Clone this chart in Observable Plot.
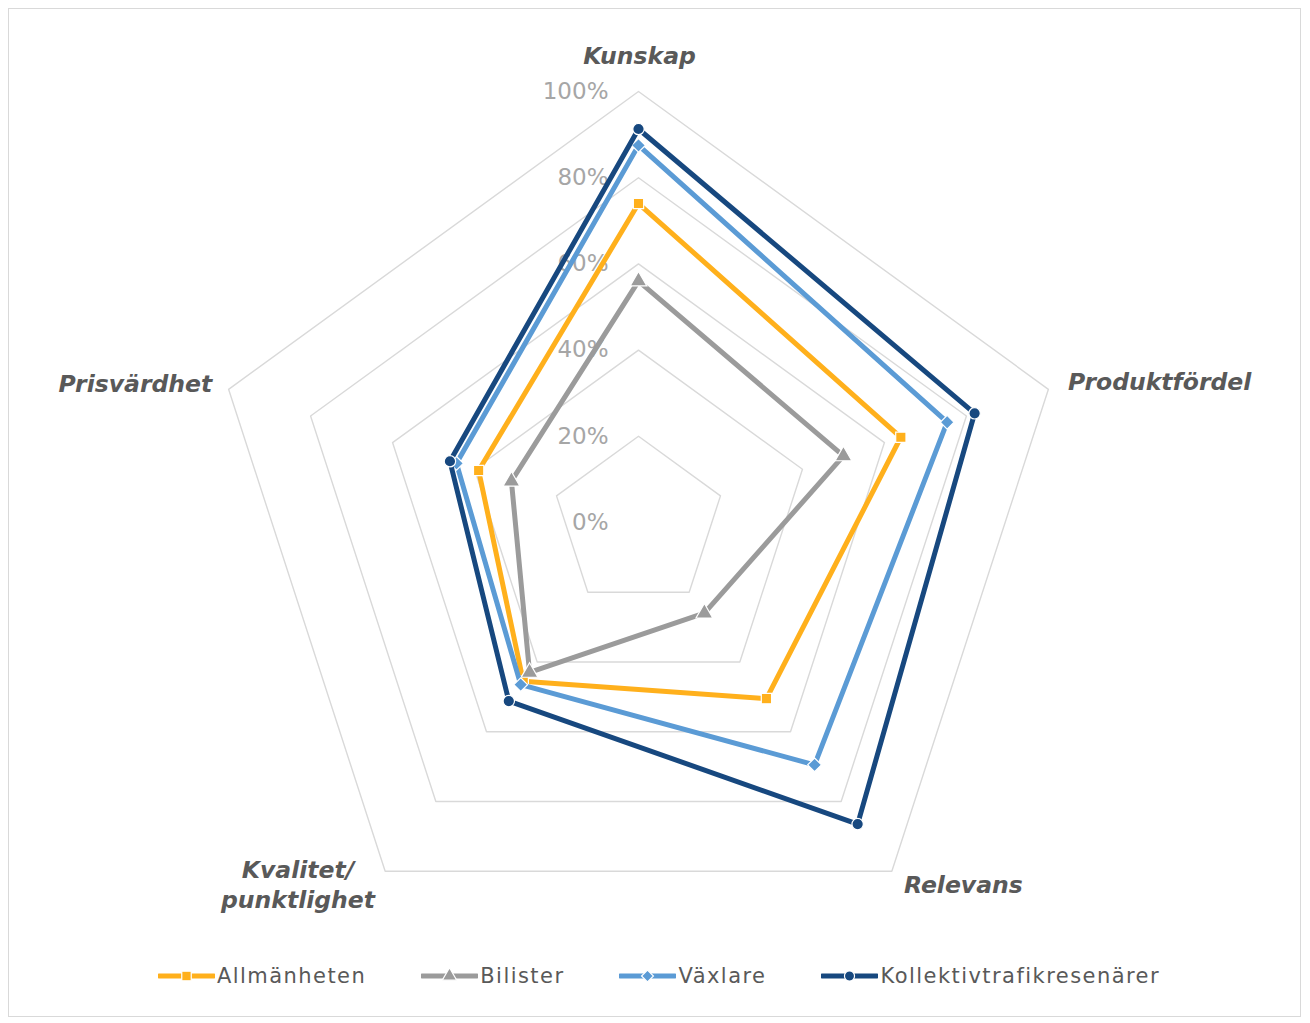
<!DOCTYPE html>
<html>
<head>
<meta charset="utf-8">
<script src="https://cdn.jsdelivr.net/npm/d3@7"></script>
<script src="https://cdn.jsdelivr.net/npm/@observablehq/plot@0.6"></script>
<style>
  html, body { margin: 0; padding: 0; background: #fff; }
  #wrap { position: relative; width: 1310px; height: 1023px; overflow: hidden; font-family: "DejaVu Sans", Verdana, sans-serif; }
  #frame { position: absolute; left: 8px; top: 8px; width: 1293px; height: 1009px; border: 1px solid #d9d9d9; box-sizing: border-box; }
  #chart { position: absolute; left: 0; top: 0; }
  #legend { position: absolute; left: 4px; width: 1310px; top: 964px; display: flex; justify-content: center; gap: 55px; align-items: center; }
  .item { display: flex; align-items: center; gap: 2px; }
  .item span { font-size: 21px; letter-spacing: 1.45px; color: #595959; }
</style>
</head>
<body>
<div id="wrap">
  <div id="frame"></div>
  <div id="chart"></div>
  <div id="legend"></div>
</div>
<script>
// ---- data ----
const axes = ["Kunskap", "Produktfördel", "Relevans", "Kvalitet/\npunktlighet", "Prisvärdhet"];
const seriesNames = ["Allmänheten", "Bilister", "Växlare", "Kollektivtrafikresenärer"];
const allmanheten = [0.74, 0.64, 0.505, 0.455, 0.39];
const bilister    = [0.56, 0.50, 0.26, 0.43, 0.31];
const vaxlare     = [0.875, 0.753, 0.695, 0.465, 0.444];
const kollektiv   = [0.913, 0.82, 0.865, 0.512, 0.46];
const tickValues  = [0, 0.2, 0.4, 0.6, 0.8, 1.0];
const tickLabels  = ["0%", "20%", "40%", "60%", "80%", "100%"];

const colors  = ["#FFB01C", "#9B9B9B", "#5B9BD5", "#17487F"];
const symbols = ["square", "triangle", "diamond2", "circle"];
const seriesValues = [allmanheten, bilister, vaxlare, kollektiv];

// ---- geometry helpers ----
const n = axes.length;
const ang = i => i * 2 * Math.PI / n;
const px = (r, i) => r * Math.sin(ang(i));
const py = (r, i) => r * Math.cos(ang(i));

const W = 1310, H = 940, cx = 638, cy = 522, R = 431;

// rings
const rings = [];
tickValues.filter(t => t > 0).forEach(t => {
  for (let i = 0; i < n; i++) rings.push({ring: t, x: px(t, i), y: py(t, i)});
});

// series points
const seriesData = seriesNames.map((s, k) =>
  seriesValues[k].map((v, i) => ({series: s, axis: axes[i], x: px(v, i), y: py(v, i)}))
);

// axis label placement (code-side layout)
const labelLayout = [
  {r: 1.081, anchor: "middle", dx: 1},
  {r: 1.05, anchor: "start", dx: -1},
  {r: 1.04, anchor: "start", dx: 2},
  {r: 1.04, anchor: "middle", dx: -77},
  {r: 1.04, anchor: "end", dx: 0}
];
const labels = axes.map((a, i) => ({text: a, x: px(labelLayout[i].r, i), y: py(labelLayout[i].r, i), i}));

const marks = [
  Plot.line(rings, {x: "x", y: "y", z: "ring", curve: "linear-closed", stroke: "#d9d9d9", strokeWidth: 1.4}),
  Plot.text(tickValues.map((t, i) => ({t, label: tickLabels[i]})), {
    x: 0, y: "t", text: "label", textAnchor: "end", dx: -30, dy: 0,
    fill: "#a6a6a6", fontSize: 23
  })
];
seriesData.forEach((d, k) => {
  marks.push(Plot.line(d, {x: "x", y: "y", curve: "linear-closed", stroke: colors[k], strokeWidth: 5, strokeLinejoin: "round"}));
  marks.push(Plot.dot(d, {x: "x", y: "y", symbol: () => symbols[k], fill: colors[k], stroke: "#fff", strokeWidth: 1.2,
    r: symbols[k] === "circle" ? 5.7 : (symbols[k] === "square" ? 5.8 : 6.2)}));
});
labelLayout.forEach((L, i) => {
  marks.push(Plot.text([labels[i]], {
    x: "x", y: "y", text: "text", textAnchor: L.anchor, dx: L.dx, dy: -2, lineAnchor: "middle", lineHeight: 1.28,
    fill: "#595959", fontSize: 23.5, fontWeight: "bold", fontStyle: "italic"
  }));
});

const chart = Plot.plot({
  width: W, height: H,
  marginTop: 0, marginBottom: 0, marginLeft: 0, marginRight: 0,
  x: {domain: [-cx / R, (W - cx) / R], range: [0, W], axis: null},
  y: {domain: [-(H - cy) / R, cy / R], range: [H, 0], axis: null},
  style: {fontFamily: "DejaVu Sans, Verdana, sans-serif", background: "transparent", overflow: "visible"},
  marks
});
document.getElementById("chart").appendChild(chart);

// ---- legend ----
const legend = d3.select("#legend");
seriesNames.forEach((s, k) => {
  const item = legend.append("div").attr("class", "item");
  const svg = item.append("svg").attr("width", 57).attr("height", 20);
  svg.append("line").attr("x1", 1).attr("x2", 56).attr("y1", 10).attr("y2", 10)
    .attr("stroke", colors[k]).attr("stroke-width", 5).attr("stroke-linecap", "round");
  const sym = {square: d3.symbolSquare, triangle: d3.symbolTriangle, diamond2: d3.symbolDiamond2, circle: d3.symbolCircle}[symbols[k]];
  svg.append("path").attr("transform", "translate(28.5,10)")
    .attr("d", d3.symbol(sym, symbols[k] === "circle" ? 80 : 90)())
    .attr("fill", colors[k]).attr("stroke", "#fff").attr("stroke-width", 1.2);
  item.append("span").text(s);
});
</script>
</body>
</html>
